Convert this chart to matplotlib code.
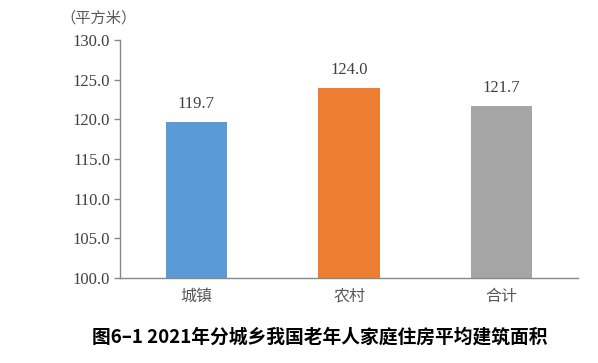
import matplotlib.pyplot as plt

# --- data ---
categories = ["城镇", "农村", "合计"]
values = [119.7, 124.0, 121.7]
colors = ["#5B9BD5", "#ED7D31", "#A5A5A5"]
y_ticks = [100.0, 105.0, 110.0, 115.0, 120.0, 125.0, 130.0]

cjk = ["Noto Sans CJK SC", "DejaVu Sans"]
serif = ["Liberation Serif", "DejaVu Serif"]

fig = plt.figure(figsize=(5.98, 3.63), dpi=100)
ax = fig.add_axes([0.2007, 0.2342, 0.7659, 0.6556])

x = range(len(categories))
bars = ax.bar(x, values, width=0.4, color=colors, zorder=2)

ax.set_xlim(-0.5, 2.5)
ax.set_ylim(100, 130)
ax.set_yticks(y_ticks)
ax.set_yticklabels([f"{v:.1f}" for v in y_ticks], family=serif, fontsize=12, color="#404040")
ax.set_xticks(list(x))
ax.set_xticklabels(categories, family=cjk, fontsize=11.5, color="#595959")
ax.tick_params(axis="x", length=0, pad=7)
ax.tick_params(axis="y", length=4, width=1, color="#888888", pad=3)

for side in ["top", "right"]:
    ax.spines[side].set_visible(False)
for side in ["left", "bottom"]:
    ax.spines[side].set_color("#888888")
    ax.spines[side].set_linewidth(1)

# value labels
for b, v in zip(bars, values):
    ax.text(b.get_x() + b.get_width() / 2, v + 1.2, f"{v:.1f}", ha="center", va="bottom",
            family=serif, fontsize=12, color="#404040")

fig.text(0.164, 0.95, "（平方米）", ha="center", va="center", family=cjk, fontsize=11, color="#595959")
fig.text(0.535, 0.07, "图6–1 2021年分城乡我国老年人家庭住房平均建筑面积", ha="center", va="center",
         family=cjk, fontsize=13.5, fontweight="bold", color="black")

fig.savefig("out.png", dpi=100)
